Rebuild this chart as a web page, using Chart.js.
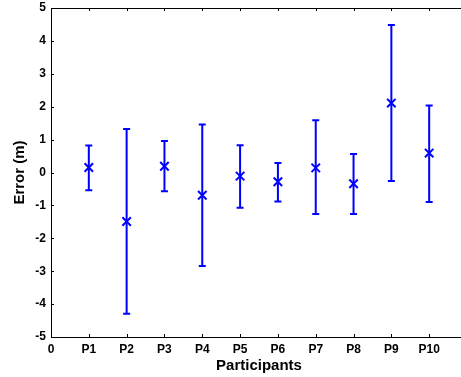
<!DOCTYPE html>
<html>
<head>
<meta charset="utf-8">
<script src="https://cdn.jsdelivr.net/npm/chart.js@4/dist/chart.umd.min.js"></script>
<style>
  html, body { margin: 0; padding: 0; background: #fff; overflow: hidden; }
  #wrap { width: 475px; height: 377px; }
</style>
</head>
<body>
<div id="wrap"><canvas id="errChart"></canvas></div>
<script>
// data
const participants = ['P1', 'P2', 'P3', 'P4', 'P5', 'P6', 'P7', 'P8', 'P9', 'P10'];
const meanError = [0.15, -1.49, 0.19, -0.69, -0.11, -0.28, 0.14, -0.34, 2.11, 0.59];
const upperError = [0.82, 1.32, 0.96, 1.46, 0.83, 0.29, 1.59, 0.56, 4.48, 2.04];
const lowerError = [-0.54, -4.29, -0.57, -2.84, -1.07, -0.88, -1.26, -1.26, -0.26, -0.90];
const yTicks = [-5, -4, -3, -2, -1, 0, 1, 2, 3, 4, 5];

const blue = '#0000ff';
const points = participants.map((p, i) => ({ x: i + 1, y: meanError[i] }));

// draws the error bars plus the matlab-style box and inward ticks
const matlabBits = {
  id: 'matlabBits',
  beforeDatasetsDraw(chart) {
    const { ctx, scales: { x, y } } = chart;
    ctx.save();
    ctx.strokeStyle = blue;
    ctx.lineWidth = 2;
    participants.forEach((p, i) => {
      const px = x.getPixelForValue(i + 1);
      const top = y.getPixelForValue(upperError[i]);
      const bot = y.getPixelForValue(lowerError[i]);
      ctx.beginPath();
      ctx.moveTo(px, top); ctx.lineTo(px, bot);
      ctx.moveTo(px - 3.5, top); ctx.lineTo(px + 3.5, top);
      ctx.moveTo(px - 3.5, bot); ctx.lineTo(px + 3.5, bot);
      ctx.stroke();
    });
    ctx.restore();
  },
  afterDraw(chart) {
    const { ctx, chartArea: a, scales: { x, y } } = chart;
    ctx.save();
    ctx.strokeStyle = '#000';
    ctx.lineWidth = 1;
    ctx.beginPath();
    ctx.moveTo(a.left, a.top + 0.5); ctx.lineTo(a.right, a.top + 0.5);
    ctx.moveTo(a.right - 0.5, a.top); ctx.lineTo(a.right - 0.5, a.bottom);
    x.ticks.forEach(t => {
      const px = Math.round(x.getPixelForValue(t.value)) + 0.5;
      ctx.moveTo(px, a.bottom); ctx.lineTo(px, a.bottom - 3);
      ctx.moveTo(px, a.top); ctx.lineTo(px, a.top + 3);
    });
    y.ticks.forEach(t => {
      const py = Math.round(y.getPixelForValue(t.value)) + 0.5;
      ctx.moveTo(a.left, py); ctx.lineTo(a.left + 3, py);
      ctx.moveTo(a.right, py); ctx.lineTo(a.right - 3, py);
    });
    ctx.stroke();
    ctx.restore();
  }
};

new Chart(document.getElementById('errChart'), {
  type: 'scatter',
  data: {
    datasets: [{
      data: points,
      pointStyle: 'crossRot',
      pointRadius: 6,
      pointHoverRadius: 6,
      borderColor: blue,
      backgroundColor: blue,
      borderWidth: 2,
      showLine: false
    }]
  },
  options: {
    responsive: true,
    maintainAspectRatio: false,
    animation: false,
    layout: { padding: { top: 1, right: 7, left: 0, bottom: 0 } },
    plugins: { legend: { display: false }, tooltip: { enabled: false } },
    scales: {
      x: {
        type: 'linear',
        min: 0,
        max: 11,
        afterFit(s) { s.height = 40; },
        afterBuildTicks(s) { s.ticks = [0, 1, 2, 3, 4, 5, 6, 7, 8, 9, 10, 11].map(v => ({ value: v })); },
        grid: { display: false, tickLength: 0 },
        border: { display: true, color: '#000', width: 1 },
        ticks: {
          color: '#000',
          padding: 5,
          maxRotation: 0,
          autoSkip: false,
          font: { family: 'Arial', size: 12, weight: 'bold' },
          callback: v => (v === 0 ? '0' : (participants[v - 1] || ''))
        },
        title: {
          display: true,
          text: 'Participants',
          color: '#000',
          padding: { top: 0, bottom: 2 },
          font: { family: 'Arial', size: 15, weight: 'bold' }
        }
      },
      y: {
        min: -5,
        max: 5,
        afterFit(s) { s.width = 51; s.paddingTop = 0; },
        afterBuildTicks(s) { s.ticks = yTicks.map(v => ({ value: v })); },
        grid: { display: false, tickLength: 0 },
        border: { display: true, color: '#000', width: 1 },
        ticks: {
          color: '#000',
          padding: 5,
          font: { family: 'Arial', size: 12, weight: 'bold' }
        },
        title: {
          display: true,
          text: 'Error (m)',
          color: '#000',
          padding: { top: 11, bottom: 0 },
          font: { family: 'Arial', size: 15, weight: 'bold' }
        }
      }
    }
  },
  plugins: [matlabBits]
});
</script>
</body>
</html>
